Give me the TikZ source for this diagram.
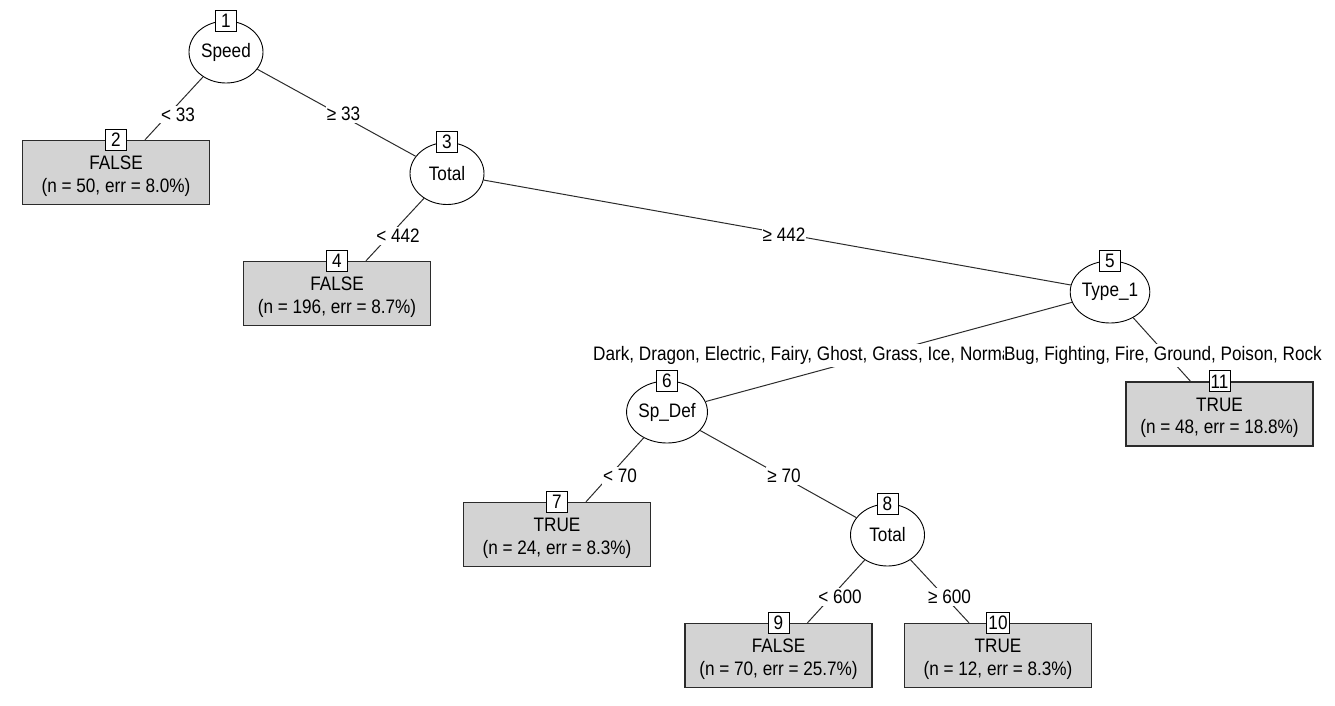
\documentclass[tikz,border=0pt]{standalone}
\usepackage{fontspec}
\setmainfont{Liberation Sans}[FakeStretch=0.88]
\usetikzlibrary{positioning, shapes.geometric}
\definecolor{LeafFill}{HTML}{D3D3D3}
\definecolor{EdgeInk}{HTML}{2B2B2B}
\newcommand{\treefont}{\fontsize{19.5}{22.5}\selectfont}
\tikzset{
  split/.style={ellipse, draw=black, line width=0.9pt, fill=white,
    minimum width=74pt, minimum height=62pt, inner sep=0pt, font=\treefont},
  leaf/.style={rectangle, draw=EdgeInk, line width=1.4pt, fill=LeafFill, align=center,
    minimum width=187pt, minimum height=64pt, inner sep=0pt, font=\treefont,
    execute at begin node=\rule{0pt}{44pt}},
  numbox/.style={draw=black, line width=1pt, fill=white,
    minimum width=21pt, minimum height=21pt, inner sep=1.5pt, font=\treefont},
  branch/.style={draw=EdgeInk, line width=1pt},
  elabel/.style={fill=white, inner xsep=1pt, inner ysep=2pt, font=\treefont},
}

\begin{document}
\begin{tikzpicture}[on grid]
    \useasboundingbox (0,0) rectangle (1335pt,-705pt);
    % inner and terminal nodes
    \node[split] (n1) at (226pt,-52pt) {Speed};
    \node[leaf, below left=120.5pt and 110pt of n1] (n2) {FALSE\\(n = 50, err = 8.0\%)};
    \node[split, below right=121.5pt and 221pt of n1] (n3) {Total};
    \node[leaf, below left=120pt and 110pt of n3] (n4) {FALSE\\(n = 196, err = 8.7\%)};
    \node[split, below right=118.5pt and 663pt of n3] (n5) {Type\_1};
    \node[split, below left=120pt and 443pt of n5] (n6) {Sp\_Def};
    \node[leaf, below right=122pt and 109.5pt of n5] (n11) {TRUE\\(n = 48, err = 18.8\%)};
    \node[leaf, below left=122.5pt and 110pt of n6] (n7) {TRUE\\(n = 24, err = 8.3\%)};
    \node[split, below right=123pt and 220.5pt of n6] (n8) {Total};
    \node[leaf, below left=120.5pt and 109pt of n8] (n9) {FALSE\\(n = 70, err = 25.7\%)};
    \node[leaf, below right=120.5pt and 110.5pt of n8] (n10) {TRUE\\(n = 12, err = 8.3\%)};
    % node numbers
    \foreach \k in {1,...,11}
      \node[numbox] (k\k) at (n\k.north) {\k};
    % branches
    \draw[branch] (n1) -- ([xshift=29pt]n2.north);
    \draw[branch] (n1) -- (n3);
    \draw[branch] (n3) -- ([xshift=29pt]n4.north);
    \draw[branch] (n3) -- (n5);
    \draw[branch] (n5) -- (n6);
    \draw[branch] (n5) -- ([xshift=-29pt]n11.north);
    \draw[branch] (n6) -- ([xshift=29pt]n7.north);
    \draw[branch] (n6) -- (n8);
    \draw[branch] (n8) -- ([xshift=29pt]n9.north);
    \draw[branch] (n8) -- ([xshift=-29pt]n10.north);
    % split labels
    \node[elabel] (e12) at (178pt,-114.5pt) {< 33};
    \node[elabel] (e13) at (343.5pt,-114pt) {≥ 33};
    \node[elabel] (e34) at (398pt,-236pt) {< 442};
    \node[elabel] (e35) at (784pt,-235pt) {≥ 442};
    \node[elabel, anchor=west] (e56) at (592pt,-355.5pt) {Dark, Dragon, Electric, Fairy, Ghost, Grass, Ice, Normal};
    \node[elabel, anchor=east, inner xsep=0pt] (e511) at (1322pt,-355.5pt) {Bug, Fighting, Fire, Ground, Poison, Rock};
    \node[elabel] (e67) at (620pt,-476pt) {< 70};
    \node[elabel] (e68) at (784pt,-476pt) {≥ 70};
    \node[elabel] (e89) at (840pt,-597pt) {< 600};
    \node[elabel] (e810) at (949.5pt,-597pt) {≥ 600};
\end{tikzpicture}
\end{document}
